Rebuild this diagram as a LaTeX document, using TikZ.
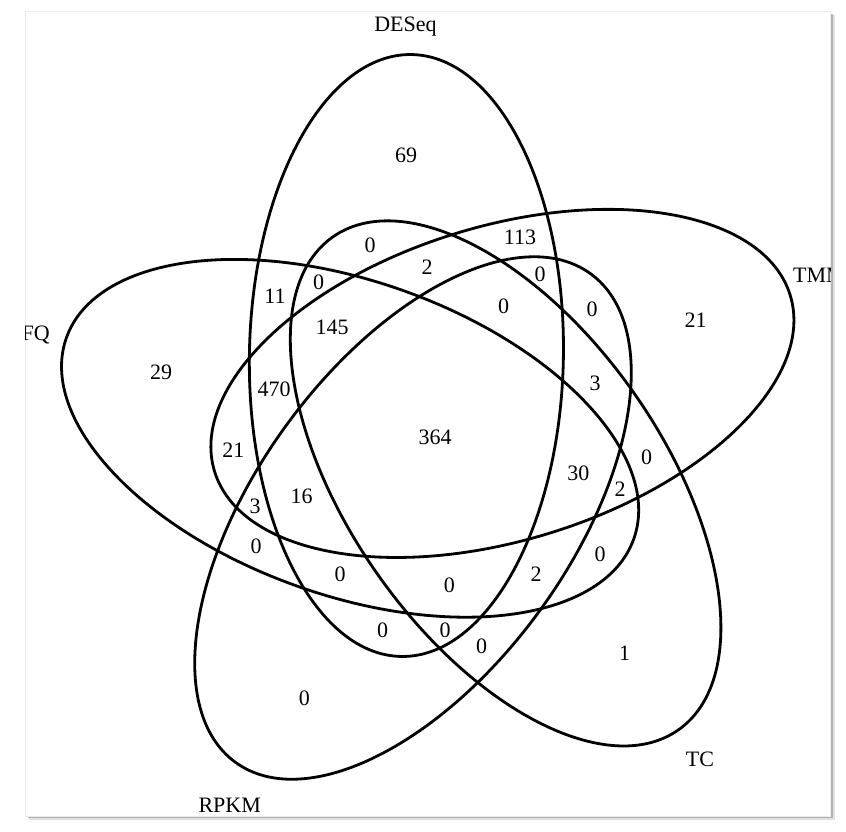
\documentclass[tikz,border=0pt]{standalone}
\usepackage{fontspec}
\setmainfont{Liberation Serif}
\begin{document}
\begin{tikzpicture}[x=1pt,y=-1pt,
  ell/.style={line width=2.8pt},
  num/.style={inner sep=0pt, anchor=center, font=\fontsize{22}{26}\selectfont},
  lab/.style={inner sep=0pt, font=\fontsize{22}{26}\selectfont}]
\useasboundingbox (0,0) rectangle (846,831);
% panel with shadow
\fill[black!12] (29,15) rectangle (834.5,819.5);
\fill[black!30] (27.5,13.5) rectangle (833.2,818.3);
\filldraw[fill=white, draw=black!8, line width=0.8pt] (25.5,11.5) rectangle (830.7,816);
% ellipses
\draw[ell, rotate around={89:(406.4,355.5)}] (406.4,355.5) ellipse [x radius=301, y radius=157];
\draw[ell, rotate around={17:(502.4,383.4)}] (502.4,383.4) ellipse [x radius=301, y radius=157];
\draw[ell, rotate around={-55:(505.6,483.4)}] (505.6,483.4) ellipse [x radius=301, y radius=157];
\draw[ell, rotate around={54:(413,518)}] (413,518) ellipse [x radius=302, y radius=157];
\draw[ell, rotate around={-19.5:(350.1,438.3)}] (350.1,438.3) ellipse [x radius=301, y radius=157];
% set labels
\node[lab, anchor=base] (lDESeq) at (405.5,31) {DESeq};
\node[lab, anchor=center] (lTC) at (700,759) {TC};
\node[lab, anchor=center] (lRPKM) at (229.7,805.7) {RPKM};
\begin{scope}
  \clip (25.5,11.5) rectangle (830.7,816);
  \node[lab, anchor=base west] (lTMM) at (793,282) {TMM};
  \node[lab, anchor=base east] (lFQ) at (50,340) {FQ};
\end{scope}
% region counts
\node[num] (n69) at (406,155) {69};
\node[num] (n0a) at (370,245) {0};
\node[num] (n113) at (520,237.5) {113};
\node[num] (n2a) at (427,267) {2};
\node[num] (n0b) at (318.5,282) {0};
\node[num] (n0c) at (540,274.5) {0};
\node[num] (n11) at (275,296.5) {11};
\node[num] (n0d) at (503.5,306) {0};
\node[num] (n0e) at (592,309.5) {0};
\node[num] (n21a) at (695.5,320) {21};
\node[num] (n145) at (332,327) {145};
\node[num] (n29) at (161,372) {29};
\node[num] (n470) at (274,389) {470};
\node[num] (n3a) at (595,383.5) {3};
\node[num] (n364) at (435,437.3) {364};
\node[num] (n21b) at (233.3,450) {21};
\node[num] (n0f) at (646.5,457) {0};
\node[num] (n30) at (578.3,473.3) {30};
\node[num] (n2b) at (620,489.3) {2};
\node[num] (n16) at (301.7,496) {16};
\node[num] (n3b) at (255,506) {3};
\node[num] (n0g) at (256,546) {0};
\node[num] (n0h) at (600,554) {0};
\node[num] (n0i) at (340,574) {0};
\node[num] (n0j) at (449.3,585) {0};
\node[num] (n2c) at (536,574.3) {2};
\node[num] (n0k) at (382.7,630) {0};
\node[num] (n0l) at (445,630) {0};
\node[num] (n0m) at (481.7,646) {0};
\node[num] (n1) at (624.5,653) {1};
\node[num] (n0n) at (304.3,698.3) {0};
\end{tikzpicture}
\end{document}
